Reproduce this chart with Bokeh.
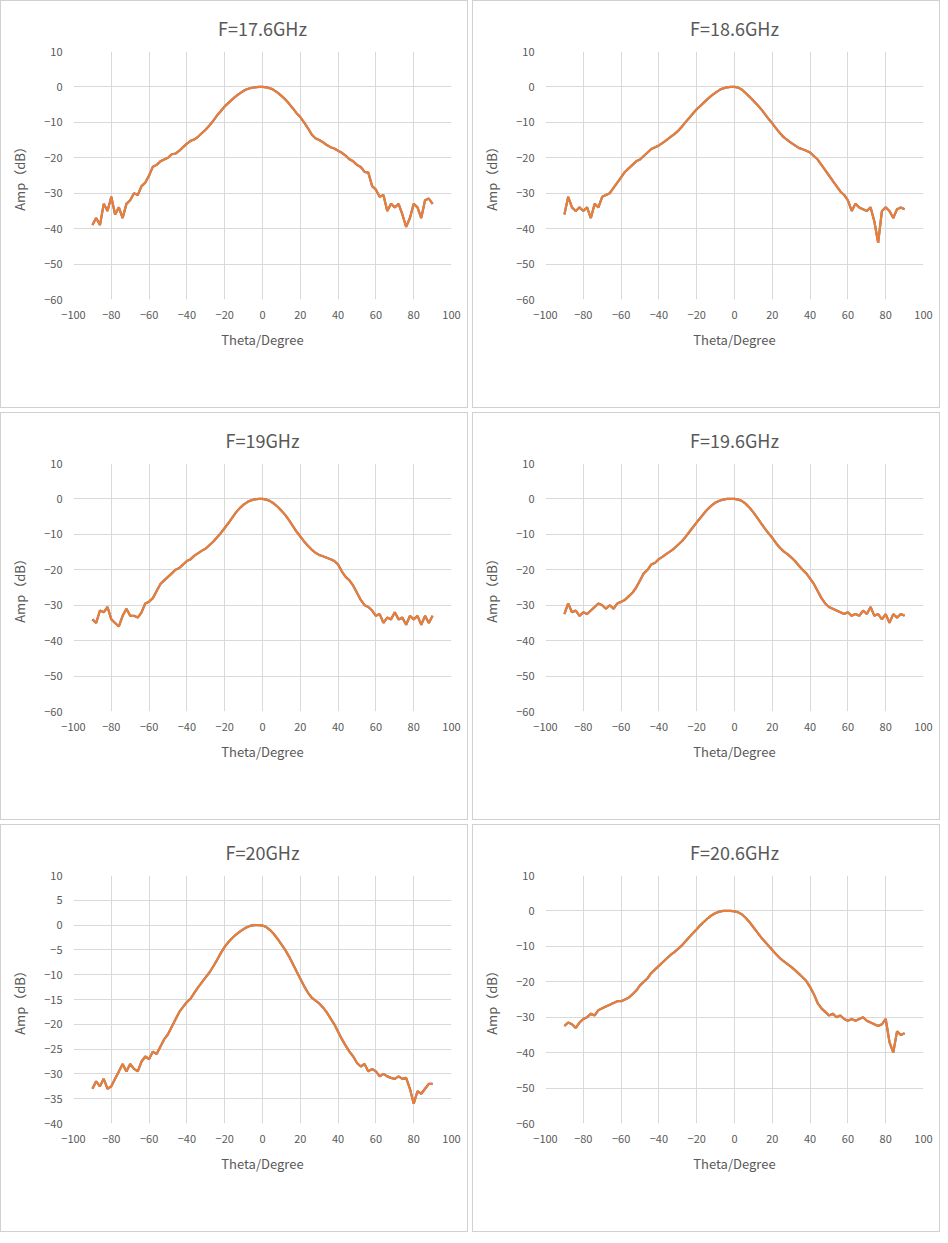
from bokeh.plotting import figure
from bokeh.layouts import column, row
from bokeh.models import Range1d, FixedTicker, Legend, LegendItem, Title
from bokeh.embed import file_html
from bokeh.resources import INLINE

theta = list(range(-90, 91, 2))

amp_176 = [-39,-37,-39,-33,-35,-31,-36,-34,-37,-33,-32,-30,-30.5,-28,-27,-25,-22.5,-22,-21,-20.5,-20,-19,-18.8,-18,-17,-16,-15.2,-14.8,-14,-13,-12,-10.8,-9.5,-8,-6.8,-5.5,-4.5,-3.5,-2.6,-1.8,-1.1,-0.6,-0.3,-0.1,0,0,-0.1,-0.4,-0.9,-1.6,-2.5,-3.5,-4.7,-6,-7.4,-8.5,-10,-11.6,-13.4,-14.5,-15,-15.6,-16.4,-17,-17.4,-18,-18.6,-19.4,-20.4,-21,-22,-22.6,-24,-24.2,-28,-29,-31,-30.5,-35,-33,-34,-33,-36,-39.5,-37,-33,-34,-37,-32,-31.5,-33]
amp_186 = [-36,-31,-34,-35,-34,-35,-34,-37,-33,-34,-31,-30.5,-30,-28.5,-27,-25.5,-24,-23,-22,-21,-20.5,-19.5,-18.5,-17.5,-17,-16.5,-15.8,-15,-14.2,-13.4,-12.5,-11.3,-10,-8.8,-7.5,-6.3,-5.3,-4.3,-3.3,-2.4,-1.6,-0.9,-0.4,-0.1,0,0,-0.2,-0.8,-1.8,-2.8,-3.9,-5,-6.2,-7.6,-9,-10.3,-11.7,-13,-14.2,-15,-15.8,-16.5,-17.2,-17.6,-18,-18.5,-19.5,-20.5,-22,-23.5,-25,-26.5,-28,-29.5,-30.5,-32,-35,-33,-34,-34.5,-35,-34,-38,-44,-35,-34,-35,-37,-34.5,-34,-34.5]
amp_19 = [-34,-35,-31.5,-32,-30.5,-34,-35,-36,-33,-31,-33,-33,-33.5,-32,-29.5,-29,-28,-26,-24,-23,-22,-21,-20,-19.5,-18.5,-17.5,-17,-16,-15.3,-14.6,-14,-13,-12,-10.8,-9.6,-8.2,-6.8,-5.3,-3.8,-2.6,-1.6,-0.9,-0.4,-0.1,0,0,-0.2,-0.6,-1.3,-2.2,-3.3,-4.5,-6,-7.6,-9.2,-10.6,-12,-13.2,-14.3,-15.2,-15.8,-16.2,-16.6,-17,-17.5,-18.5,-20.5,-22,-23,-24.5,-26.5,-28.5,-30,-30.5,-31.5,-33,-32.5,-35,-33.5,-34,-32,-34,-33.5,-35.5,-33,-34,-33,-35.5,-33,-35,-33]
amp_196 = [-32.5,-29.5,-32,-31.5,-33,-32,-32.5,-31.5,-30.5,-29.5,-30,-31,-30,-31,-29.5,-29,-28.5,-27.5,-26.5,-25,-23,-21,-20,-18.5,-18,-17,-16.3,-15.5,-14.8,-14,-13,-12,-10.8,-9.4,-8,-6.6,-5.3,-4,-2.8,-1.8,-1,-0.5,-0.2,0,0,0,-0.2,-0.6,-1.4,-2.5,-3.8,-5.3,-6.8,-8.3,-9.7,-11,-12.5,-13.8,-14.8,-15.6,-16.5,-17.5,-18.8,-20,-21,-22.5,-24,-26,-28,-29.5,-30.5,-31,-31.5,-32,-32.5,-32,-33,-32.5,-33,-31.5,-32.5,-30.5,-33,-32.5,-34,-32.5,-35,-32.5,-33.5,-32.5,-33]
amp_20 = [-33,-31.5,-32.5,-31,-33,-32.5,-31,-29.5,-28,-29.5,-28,-29,-29.5,-27.5,-26.5,-27,-25.5,-26,-24.5,-23,-22,-20.5,-19,-17.5,-16.5,-15.5,-14.8,-13.6,-12.5,-11.5,-10.5,-9.5,-8.3,-7,-5.6,-4.4,-3.4,-2.6,-1.9,-1.3,-0.8,-0.4,-0.1,0,0,-0.1,-0.4,-1,-1.8,-2.8,-3.9,-5,-6.3,-7.8,-9.3,-10.8,-12.3,-13.6,-14.6,-15.2,-15.8,-16.6,-17.6,-18.8,-20,-21.5,-23,-24.3,-25.5,-26.5,-27.8,-28.5,-28,-29.5,-29,-29.5,-30.5,-30,-30.5,-30.8,-31,-30.5,-31,-30.8,-33,-36,-33.5,-34,-33,-32,-32]
amp_206 = [-32.5,-31.5,-32,-33,-31.5,-30.5,-30,-29,-29.5,-28,-27.5,-27,-26.5,-26,-25.5,-25.5,-25,-24.5,-23.5,-22.5,-21,-20,-19,-17.5,-16.5,-15.5,-14.5,-13.5,-12.5,-11.7,-10.8,-9.8,-8.6,-7.4,-6.3,-5.2,-4,-3,-2,-1.2,-0.6,-0.2,0,0,0,-0.1,-0.4,-1,-2,-3.2,-4.6,-6,-7.4,-8.6,-9.8,-11,-12.2,-13.3,-14.2,-15,-15.8,-16.7,-17.7,-18.7,-19.8,-21.5,-23.5,-26,-27.5,-28.5,-29.5,-29,-30,-29.5,-30.5,-31,-30.5,-31,-30.5,-30,-31,-31.5,-32,-32.5,-32,-30.5,-37,-40,-34,-35,-34.5]

panels = [
    ("F=17.6GHz", amp_176, (-60, 10, 10)),
    ("F=18.6GHz", amp_186, (-60, 10, 10)),
    ("F=19GHz", amp_19, (-60, 10, 10)),
    ("F=19.6GHz", amp_196, (-60, 10, 10)),
    ("F=20GHz", amp_20, (-40, 10, 5)),
    ("F=20.6GHz", amp_206, (-60, 10, 10)),
]

FONT = "Noto Sans CJK SC"
TXT = "#595959"

def make(title, amp, yr):
    assert len(amp) == len(theta)
    ylo, yhi, ystep = yr
    p = figure(width=468, height=408, output_backend="svg", toolbar_location=None,
               x_range=Range1d(-100, 100), y_range=Range1d(ylo, yhi),
               min_border_left=72, min_border_right=18, min_border_top=10, min_border_bottom=110,
               styles={"border": "1px solid #d0d0d0"})
    p.title = Title(text=title, align="center", text_font=FONT, text_font_size="18px",
                    text_font_style="normal", text_color=TXT, standoff=22)
    p.xaxis.ticker = FixedTicker(ticks=list(range(-100, 101, 20)))
    p.yaxis.ticker = FixedTicker(ticks=list(range(ylo, yhi + 1, ystep)))
    for ax in (p.xaxis[0], p.yaxis[0]):
        ax.major_tick_line_color = None
        ax.minor_tick_line_color = None
        ax.axis_line_color = None
        ax.major_label_text_font = FONT
        ax.major_label_text_font_size = "11px"
        ax.major_label_text_color = TXT
        ax.axis_label_text_font = FONT
        ax.axis_label_text_font_size = "13px"
        ax.axis_label_text_font_style = "normal"
        ax.axis_label_text_color = TXT
    p.xaxis.axis_label = "Theta/Degree"
    p.yaxis.axis_label = "Amp（dB）"
    p.xaxis.axis_label_standoff = 8
    p.yaxis.axis_label_standoff = 12
    p.xgrid.grid_line_color = "#d9d9d9"
    p.ygrid.grid_line_color = "#d9d9d9"
    p.outline_line_color = None
    r1 = p.line(theta, amp, line_color="#4472c4", line_width=2.2)
    r2 = p.line(theta, amp, line_color="#ed7d31", line_width=2.2)
    leg = Legend(items=[LegendItem(label="Phi=90°", renderers=[r1]),
                        LegendItem(label="Phi=0°", renderers=[r2])],
                 orientation="horizontal", location=(100, -98), border_line_color=None,
                 background_fill_alpha=0,
                 label_text_font=FONT, label_text_font_size="11px", label_text_color=TXT,
                 glyph_width=30, spacing=18, margin=0, padding=4)
    p.add_layout(leg, "center")
    return p

figs = [make(*pp) for pp in panels]
layout = column(row(figs[0], figs[1], spacing=4), row(figs[2], figs[3], spacing=4),
                row(figs[4], figs[5], spacing=4), spacing=4)
open("out.html", "w").write(file_html(layout, INLINE))
